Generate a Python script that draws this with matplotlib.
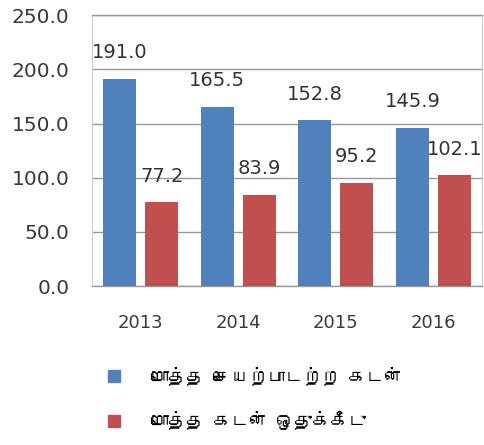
import matplotlib
matplotlib.use("Agg")
import matplotlib.pyplot as plt
from matplotlib import font_manager
from matplotlib.ft2font import FT2Font
from matplotlib.lines import Line2D

years = ["2013", "2014", "2015", "2016"]
npl_total = [191.0, 165.5, 152.8, 145.9]
provision_total = [77.2, 83.9, 95.2, 102.1]
series_names = ["மொத்த செயற்பாடற்ற கடன்", "மொத்த கடன் ஒதுக்கீடு"]
yticks = [0, 50, 100, 150, 200, 250]

blue = "#4F81BD"
red = "#C0504D"


# find any installed font with Tamil glyphs
def tamil_font():
    for f in font_manager.fontManager.ttflist:
        try:
            cmap = FT2Font(f.fname).get_charmap()
        except Exception:
            continue
        if 0x0BAE in cmap and 0x0BCA in cmap:
            return f.name
    return None


tf = tamil_font()
legend_family = [tf, "DejaVu Sans"] if tf else ["DejaVu Sans"]

fig = plt.figure(figsize=(4.84, 4.45), dpi=100)
ax = fig.add_axes([0.19, 0.357, 0.806, 0.609])

x = list(range(len(years)))
w = 0.34
off = 0.215
ax.bar([i - off for i in x], npl_total, w, color=blue, zorder=3)
ax.bar([i + off for i in x], provision_total, w, color=red, zorder=3)

for i in x:
    ax.annotate(f"{npl_total[i]:.1f}", (i - off, npl_total[i]), xytext=(0, 19),
                textcoords="offset points", ha="center", va="center",
                fontsize=14, color="#333333", zorder=4)
    ax.annotate(f"{provision_total[i]:.1f}", (i + off, provision_total[i]), xytext=(0, 19),
                textcoords="offset points", ha="center", va="center",
                fontsize=14, color="#333333", zorder=4)

ax.set_xlim(-0.5, 3.5)
ax.set_ylim(0, 250)
ax.set_yticks(yticks)
ax.set_yticklabels([f"{v:.1f}" for v in yticks], fontsize=14.5, color="#3a3a3a")
ax.set_xticks(x)
ax.set_xticklabels(years, fontsize=13, color="#3a3a3a")
ax.tick_params(axis="y", length=0, pad=16)
ax.tick_params(axis="x", length=0, pad=20)
ax.yaxis.grid(True, color="#999999", linewidth=1.0, zorder=0)
for s in ax.spines.values():
    s.set_color("#cccccc")
for k in ("bottom", "top"):
    ax.spines[k].set_color("#999999")
    ax.spines[k].set_linewidth(1.0)

handles = [Line2D([], [], marker="s", linestyle="", markersize=9, color=c) for c in (blue, red)]
fig.legend(handles, series_names, loc="upper left", bbox_to_anchor=(0.165, 0.214),
           frameon=False, labelspacing=1.45, handletextpad=1.0,
           prop={"family": legend_family, "size": 13})

fig.savefig("out.png", dpi=100)
